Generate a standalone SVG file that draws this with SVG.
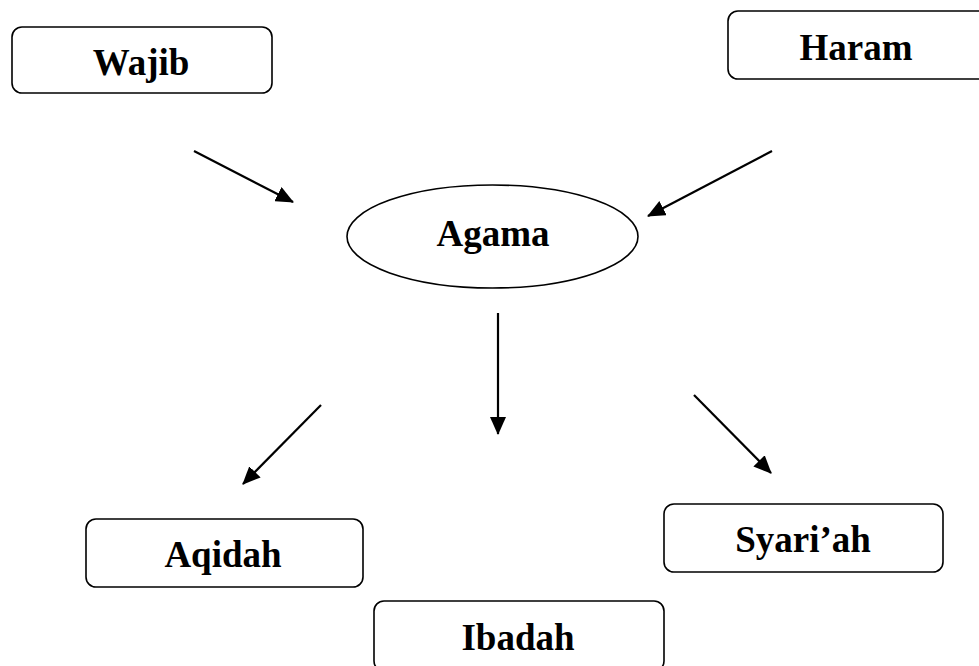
<svg xmlns="http://www.w3.org/2000/svg" width="979" height="666" viewBox="0 0 979 666">
<style>
.box{fill:#fff;stroke:#000;stroke-width:1.6}
.lbl{font-family:"Liberation Serif","Times New Roman",serif;font-weight:bold;font-size:37px;fill:#000;text-anchor:middle}
.conn{stroke:#000;stroke-width:2.2;fill:none;marker-end:url(#ah)}
</style>
<defs>
<marker id="ah" markerUnits="userSpaceOnUse" markerWidth="18" markerHeight="16" refX="17" refY="8" orient="auto" viewBox="0 0 18 16">
<path d="M0,0 L18,8 L0,16 z" fill="#000"/>
</marker>
</defs>
<rect width="979" height="666" fill="#fff"/>
<g id="wajib"><rect class="box" x="12" y="27" width="260" height="66" rx="10"/><text class="lbl" x="141" y="75">Wajib</text></g>
<g id="haram"><rect class="box" x="728" y="11" width="262" height="68" rx="10"/><text class="lbl" x="856" y="60">Haram</text></g>
<g id="agama"><ellipse class="box" cx="492.5" cy="236.5" rx="145.5" ry="51.5"/><text class="lbl" x="493" y="246">Agama</text></g>
<g id="aqidah"><rect class="box" x="86" y="519" width="277" height="68" rx="10"/><text class="lbl" x="223" y="567">Aqidah</text></g>
<g id="ibadah"><rect class="box" x="374" y="601" width="290" height="70" rx="10"/><text class="lbl" x="518" y="650">Ibadah</text></g>
<g id="syariah"><rect class="box" x="664" y="504" width="279" height="68" rx="10"/><text class="lbl" x="803" y="552">Syari’ah</text></g>
<g id="connectors">
<line class="conn" x1="194" y1="151" x2="293" y2="202"/>
<line class="conn" x1="772" y1="151" x2="648" y2="216"/>
<line class="conn" x1="498" y1="313" x2="498" y2="434"/>
<line class="conn" x1="321" y1="405" x2="243" y2="484"/>
<line class="conn" x1="694" y1="395" x2="771" y2="473"/>
</g>
</svg>
